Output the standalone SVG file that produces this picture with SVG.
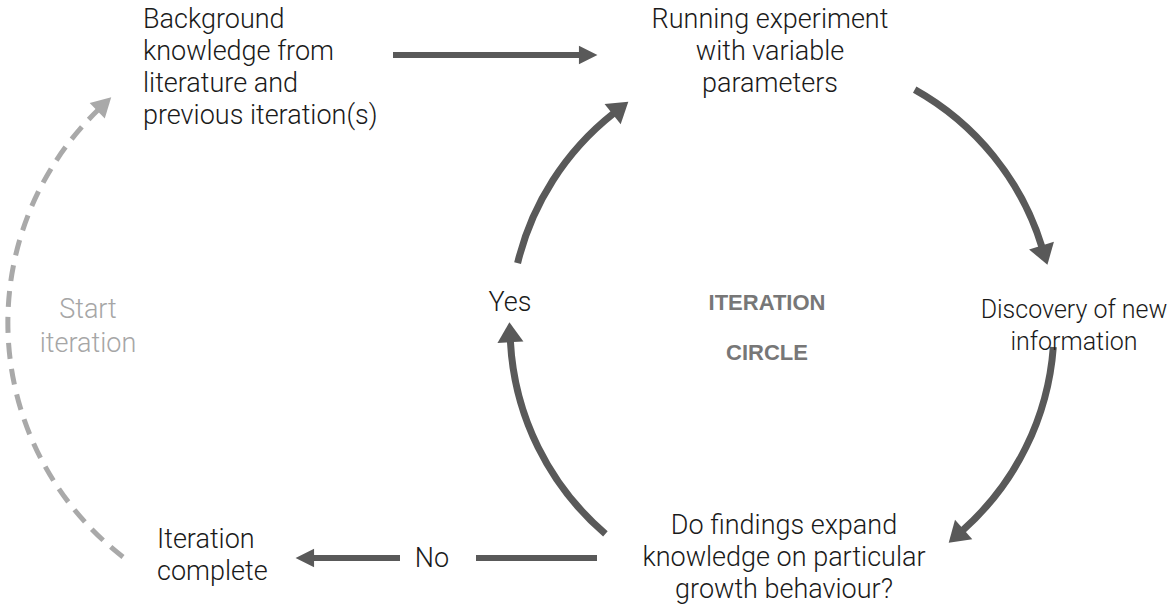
<svg xmlns="http://www.w3.org/2000/svg" width="1172" height="607" viewBox="0 0 1172 607">
  <style>
    .t { font-family: Roboto, "Liberation Sans", sans-serif; font-weight: 300; font-size: 27px; fill: #1a1a1a; }
    .c { text-anchor: middle; }
    .narrow { font-size: 25px; }
    .soft { fill: #a6a6a6; }
    .head { font-family: "Liberation Sans", Arial, sans-serif; font-weight: bold; font-size: 22px; fill: #777; text-anchor: middle; }
    .flow { fill: none; stroke: #595959; stroke-width: 7; }
    .line { fill: none; stroke: #595959; stroke-width: 6; }
    .dash { fill: none; stroke: #a9a9a9; stroke-width: 5; stroke-dasharray: 16 10; }
  </style>
  <defs>
    <!-- heads sit on the path end and point along its tangent -->
    <marker id="big" markerUnits="userSpaceOnUse" markerWidth="30" markerHeight="30" refX="0" refY="0" viewBox="-2 -15 24 30" orient="auto">
      <path d="M-1,-13 L19,0 L-1,13 Z" fill="#595959"/>
    </marker>
    <marker id="small" markerUnits="userSpaceOnUse" markerWidth="24" markerHeight="24" refX="0" refY="0" viewBox="-2 -11 22 22" orient="auto">
      <path d="M-1,-8.5 L16,0 L-1,8.5 Z" fill="#595959"/>
    </marker>
    <marker id="grey" markerUnits="userSpaceOnUse" markerWidth="26" markerHeight="26" refX="0" refY="0" viewBox="-2 -12 22 24" orient="auto">
      <path d="M-1,-10 L17,0 L-1,10 Z" fill="#a9a9a9"/>
    </marker>
  </defs>

  <g id="connectors">
    <path class="line" d="M393,55 L580,55" marker-end="url(#small)"/>
    <!-- iteration circle: centre (782,327), r 272 -->
    <path class="flow" d="M914.7,89.6 A272,272 0 0 1 1041.8,246.6" marker-end="url(#big)"/>
    <path class="flow" d="M1053.3,346.9 A272,272 0 0 1 962.9,530.1" marker-end="url(#big)"/>
    <path class="flow" d="M605.4,533.8 A272,272 0 0 1 510.4,341.2" marker-end="url(#big)"/>
    <path class="flow" d="M517.6,263.1 A272,272 0 0 1 613.4,113.5" marker-end="url(#big)"/>
    <path class="line" d="M597,558 L476,558"/>
    <path class="line" d="M400,558 L313,558" marker-end="url(#small)"/>
    <path class="dash" d="M123,557 A296,296 0 0 1 98,110" marker-end="url(#grey)"/>
  </g>

  <g id="background">
    <text class="t" x="143" y="28">Background</text>
    <text class="t" x="143" y="60">knowledge from</text>
    <text class="t" x="143" y="92">literature and</text>
    <text class="t" x="143" y="124">previous iteration(s)</text>
  </g>
  <g id="experiment">
    <text class="t c" x="770" y="28">Running experiment</text>
    <text class="t c" x="770" y="60">with variable</text>
    <text class="t c" x="770" y="92">parameters</text>
  </g>
  <g id="discovery">
    <text class="t c narrow" x="1074" y="318">Discovery of new</text>
    <text class="t c narrow" x="1074" y="350">information</text>
  </g>
  <g id="question">
    <text class="t c" x="784" y="534">Do findings expand</text>
    <text class="t c" x="784" y="566">knowledge on particular</text>
    <text class="t c" x="784" y="598">growth behaviour?</text>
  </g>
  <g id="complete">
    <text class="t" x="157" y="548">Iteration</text>
    <text class="t" x="157" y="580">complete</text>
  </g>
  <g id="yes">
    <text class="t c" x="510" y="311">Yes</text>
  </g>
  <g id="no">
    <text class="t c" x="432" y="567">No</text>
  </g>
  <g id="start">
    <text class="t c soft" x="88" y="318">Start</text>
    <text class="t c soft" x="88" y="352">iteration</text>
  </g>
  <g id="circle-title">
    <text class="head" x="767" y="310">ITERATION</text>
    <text class="head" x="767" y="360">CIRCLE</text>
  </g>
</svg>
